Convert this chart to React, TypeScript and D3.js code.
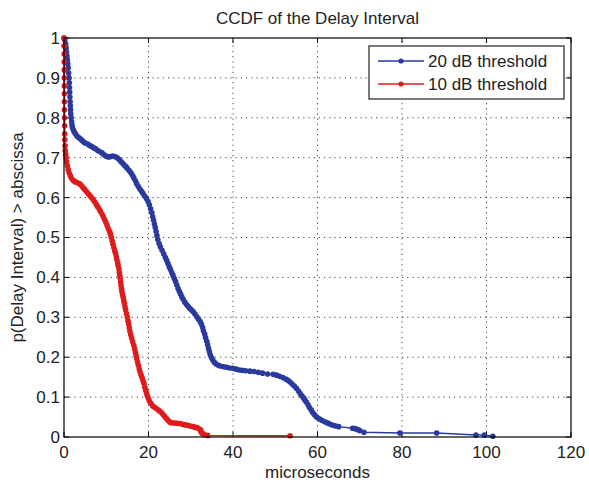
import React from "react";
import * as d3 from "d3";

const title = "CCDF of the Delay Interval";
const xLabel = "microseconds";
const yLabel = "p(Delay Interval) > abscissa";
const xTicks = [0, 20, 40, 60, 80, 100, 120];
const yTicks = [0, 0.1, 0.2, 0.3, 0.4, 0.5, 0.6, 0.7, 0.8, 0.9, 1];
const seriesNames = ["20 dB threshold", "10 dB threshold"];
const seriesColors = ["#2a3a9c", "#e01b1b"];

const blue20: [number, number][] = [
  [0, 1.0], [0.2, 0.995], [0.4, 0.985], [0.5, 0.975], [0.6, 0.965], [0.7, 0.955], [0.8, 0.945],
  [0.9, 0.935], [1.0, 0.925], [1.1, 0.912], [1.2, 0.9], [1.25, 0.888], [1.3, 0.876], [1.35, 0.864],
  [1.4, 0.852], [1.45, 0.84], [1.5, 0.83], [1.55, 0.82], [1.6, 0.81], [1.7, 0.8], [1.8, 0.79],
  [1.9, 0.782], [2.0, 0.775], [2.2, 0.77], [2.4, 0.765], [2.7, 0.76], [3.0, 0.755], [3.4, 0.751],
  [3.8, 0.748], [4.2, 0.744], [4.6, 0.74], [5.0, 0.737], [5.5, 0.735], [5.9, 0.732], [6.2, 0.73],
  [6.6, 0.728], [7.0, 0.725], [7.5, 0.722], [8.0, 0.718], [8.5, 0.715], [9.0, 0.712], [9.4, 0.708],
  [9.8, 0.705], [10.2, 0.703], [10.6, 0.702], [11.0, 0.703], [11.5, 0.704], [12.0, 0.703],
  [12.4, 0.701], [12.8, 0.698], [13.2, 0.694], [13.5, 0.69], [13.9, 0.686], [14.3, 0.681],
  [14.7, 0.677], [15.0, 0.673], [15.4, 0.668], [15.8, 0.663], [16.2, 0.656], [16.5, 0.65],
  [16.9, 0.642], [17.2, 0.635], [17.6, 0.628], [18.0, 0.621], [18.4, 0.615], [18.7, 0.61],
  [19.1, 0.604], [19.5, 0.598], [19.9, 0.59], [20.2, 0.582], [20.5, 0.572], [20.8, 0.562],
  [21.0, 0.552], [21.2, 0.543], [21.4, 0.534], [21.6, 0.525], [21.8, 0.515], [22.0, 0.505],
  [22.2, 0.495], [22.5, 0.485], [22.8, 0.477], [23.2, 0.468], [23.6, 0.459], [24.0, 0.45],
  [24.3, 0.443], [24.6, 0.435], [24.9, 0.427], [25.2, 0.42], [25.5, 0.412], [25.8, 0.405],
  [26.1, 0.397], [26.4, 0.39], [26.7, 0.381], [27.0, 0.372], [27.3, 0.365], [27.6, 0.358],
  [27.9, 0.351], [28.2, 0.345], [28.6, 0.338], [29.0, 0.332], [29.4, 0.327], [29.8, 0.322],
  [30.2, 0.318], [30.6, 0.314], [31.0, 0.308], [31.4, 0.302], [31.8, 0.296], [32.2, 0.29],
  [32.5, 0.283], [32.8, 0.275], [33.0, 0.266], [33.3, 0.258], [33.5, 0.249], [33.8, 0.24],
  [34.0, 0.231], [34.2, 0.222], [34.4, 0.214], [34.6, 0.206], [34.9, 0.199], [35.2, 0.193],
  [35.6, 0.187], [36.0, 0.183], [36.5, 0.18], [37.0, 0.178], [37.8, 0.176], [38.5, 0.175],
  [39.2, 0.173], [40.0, 0.172], [40.8, 0.17], [41.5, 0.168], [42.2, 0.167], [43.0, 0.166],
  [44.0, 0.165], [45.0, 0.164], [46.0, 0.162], [47.0, 0.16], [48.2, 0.158], [49.5, 0.157],
  [50.3, 0.155], [51.0, 0.152], [51.8, 0.149], [52.5, 0.145], [53.0, 0.142], [53.5, 0.138],
  [54.0, 0.133], [54.5, 0.128], [55.0, 0.122], [55.5, 0.115], [55.9, 0.109], [56.3, 0.103],
  [56.7, 0.098], [57.0, 0.093], [57.4, 0.087], [57.8, 0.08], [58.1, 0.074], [58.5, 0.068],
  [58.8, 0.062], [59.2, 0.057], [59.6, 0.052], [60.0, 0.048], [60.5, 0.045], [61.0, 0.042],
  [61.6, 0.039], [62.2, 0.036], [62.8, 0.033], [63.5, 0.03], [64.2, 0.028], [65.0, 0.026],
  [68.3, 0.022], [68.8, 0.021], [69.2, 0.02], [69.6, 0.018], [70.0, 0.016], [71.0, 0.012],
  [79.5, 0.01], [88.2, 0.01], [97.5, 0.005], [99.5, 0.005], [101.5, 0.002],
];

const red10: [number, number][] = [
  [0, 1.0], [0.02, 0.98], [0.04, 0.96], [0.05, 0.94], [0.06, 0.92], [0.08, 0.9], [0.09, 0.88],
  [0.1, 0.86], [0.1, 0.84], [0.12, 0.82], [0.14, 0.8], [0.16, 0.78], [0.18, 0.76], [0.2, 0.745],
  [0.25, 0.73], [0.3, 0.718], [0.4, 0.708], [0.5, 0.7], [0.6, 0.69], [0.8, 0.68], [1.0, 0.67],
  [1.2, 0.662], [1.5, 0.655], [1.8, 0.648], [2.2, 0.643], [2.6, 0.64], [3.0, 0.638], [3.5, 0.636],
  [3.9, 0.633], [4.3, 0.628], [4.7, 0.623], [5.0, 0.619], [5.4, 0.614], [5.8, 0.609], [6.2, 0.604],
  [6.5, 0.6], [6.9, 0.595], [7.2, 0.59], [7.6, 0.584], [7.9, 0.578], [8.3, 0.572], [8.6, 0.566],
  [9.0, 0.559], [9.3, 0.552], [9.6, 0.545], [9.9, 0.538], [10.2, 0.53], [10.5, 0.522],
  [10.8, 0.515], [11.0, 0.508], [11.2, 0.5], [11.4, 0.492], [11.6, 0.483], [11.8, 0.475],
  [12.0, 0.467], [12.2, 0.46], [12.4, 0.452], [12.5, 0.445], [12.7, 0.437], [12.8, 0.43],
  [13.0, 0.421], [13.1, 0.412], [13.2, 0.405], [13.3, 0.397], [13.4, 0.388], [13.5, 0.38],
  [13.6, 0.372], [13.7, 0.365], [13.85, 0.357], [14.0, 0.35], [14.15, 0.342], [14.3, 0.335],
  [14.45, 0.326], [14.6, 0.318], [14.8, 0.309], [15.0, 0.3], [15.15, 0.291], [15.3, 0.283],
  [15.45, 0.274], [15.6, 0.265], [15.8, 0.256], [16.0, 0.248], [16.25, 0.239], [16.5, 0.23],
  [16.7, 0.221], [16.9, 0.212], [17.05, 0.204], [17.2, 0.197], [17.4, 0.188], [17.6, 0.18],
  [17.8, 0.171], [18.0, 0.163], [18.25, 0.155], [18.5, 0.148], [18.7, 0.141], [18.9, 0.135],
  [19.1, 0.126], [19.3, 0.118], [19.5, 0.111], [19.7, 0.104], [19.95, 0.097], [20.2, 0.09],
  [20.6, 0.084], [21.0, 0.078], [21.5, 0.074], [22.0, 0.07], [22.5, 0.066], [23.0, 0.062],
  [23.4, 0.057], [23.8, 0.052], [24.2, 0.047], [24.6, 0.042], [25.0, 0.038], [25.3, 0.036],
  [25.9, 0.035], [26.5, 0.035], [27.0, 0.034], [27.5, 0.034], [28.0, 0.032], [28.5, 0.031],
  [29.0, 0.03], [29.5, 0.029], [30.0, 0.027], [30.6, 0.026], [31.1, 0.024], [31.6, 0.023],
  [32.0, 0.02], [32.3, 0.018], [32.4, 0.014], [32.6, 0.01], [32.9, 0.008], [33.2, 0.006],
  [34.0, 0.004], [53.5, 0.003],
];

const W = 589;
const H = 483;
const M = { left: 64, right: 18, top: 38, bottom: 46 };
const FONT = "'Liberation Sans', Arial, sans-serif";

export default function App() {
  const x = d3.scaleLinear().domain([0, 120]).range([M.left, W - M.right]);
  const y = d3.scaleLinear().domain([0, 1]).range([H - M.bottom, M.top]);
  const line = d3
    .line<[number, number]>()
    .x((d) => x(d[0]))
    .y((d) => y(d[1]));
  const series = [blue20, red10];
  const x0 = x(0), x1 = x(120), y0 = y(0), y1 = y(1);
  const tickLen = 5;
  const gridColor = "#444";

  const legX = 369, legY = 46, legW = 195, legH = 53;

  return (
    <svg
      width={W}
      height={H}
      style={{ position: "absolute", left: 0, top: 0, background: "#fff" }}
      fontFamily={FONT}
    >
      <rect x={0} y={0} width={W} height={H} fill="#fff" />
      {xTicks.slice(1, -1).map((t) => (
        <line key={"gx" + t} x1={x(t)} x2={x(t)} y1={y0} y2={y1} stroke={gridColor} strokeWidth={1} strokeDasharray="1.2,4" />
      ))}
      {yTicks.slice(1, -1).map((t) => (
        <line key={"gy" + t} x1={x0} x2={x1} y1={y(t)} y2={y(t)} stroke={gridColor} strokeWidth={1} strokeDasharray="1.2,4" />
      ))}
      {xTicks.map((t) => (
        <g key={"tx" + t}>
          <line x1={x(t)} x2={x(t)} y1={y0} y2={y0 - tickLen} stroke="#000" />
          <line x1={x(t)} x2={x(t)} y1={y1} y2={y1 + tickLen} stroke="#000" />
          <text x={x(t)} y={y0 + 21} fontSize={17} textAnchor="middle" fill="#222">
            {t}
          </text>
        </g>
      ))}
      {yTicks.map((t) => (
        <g key={"ty" + t}>
          <line x1={x0} x2={x0 + tickLen} y1={y(t)} y2={y(t)} stroke="#000" />
          <line x1={x1} x2={x1 - tickLen} y1={y(t)} y2={y(t)} stroke="#000" />
          <text x={x0 - 4} y={y(t)} dy="0.35em" fontSize={17} textAnchor="end" fill="#222">
            {t}
          </text>
        </g>
      ))}
      {series.map((s, i) => (
        <g key={"s" + i}>
          <path d={line(s) || ""} fill="none" stroke={seriesColors[i]} strokeWidth={1.5} />
          {s.map((d, j) => (
            <circle key={j} cx={x(d[0])} cy={y(d[1])} r={2.8} fill={seriesColors[i]} />
          ))}
        </g>
      ))}
      <rect x={x0} y={y1} width={x1 - x0} height={y0 - y1} fill="none" stroke="#000" strokeWidth={1.2} />
      <rect x={legX} y={legY} width={legW} height={legH} fill="#fff" stroke="#222" strokeWidth={1.2} />
      {seriesNames.map((n, i) => {
        const ly = legY + 15 + i * 23;
        return (
          <g key={"l" + i}>
            <line x1={legX + 9} x2={legX + 55} y1={ly} y2={ly} stroke={seriesColors[i]} strokeWidth={1.5} />
            <circle cx={legX + 32} cy={ly} r={2.6} fill={seriesColors[i]} />
            <text x={legX + 59} y={ly} dy="0.35em" fontSize={17} fill="#222">
              {n}
            </text>
          </g>
        );
      })}
      <text x={(x0 + x1) / 2} y={24} fontSize={17} textAnchor="middle" fill="#222">
        {title}
      </text>
      <text x={(x0 + x1) / 2} y={478} fontSize={17} textAnchor="middle" fill="#222">
        {xLabel}
      </text>
      <text
        transform={`translate(23, ${(y0 + y1) / 2}) rotate(-90)`}
        fontSize={17}
        textAnchor="middle"
        fill="#222"
      >
        {yLabel}
      </text>
    </svg>
  );
}
